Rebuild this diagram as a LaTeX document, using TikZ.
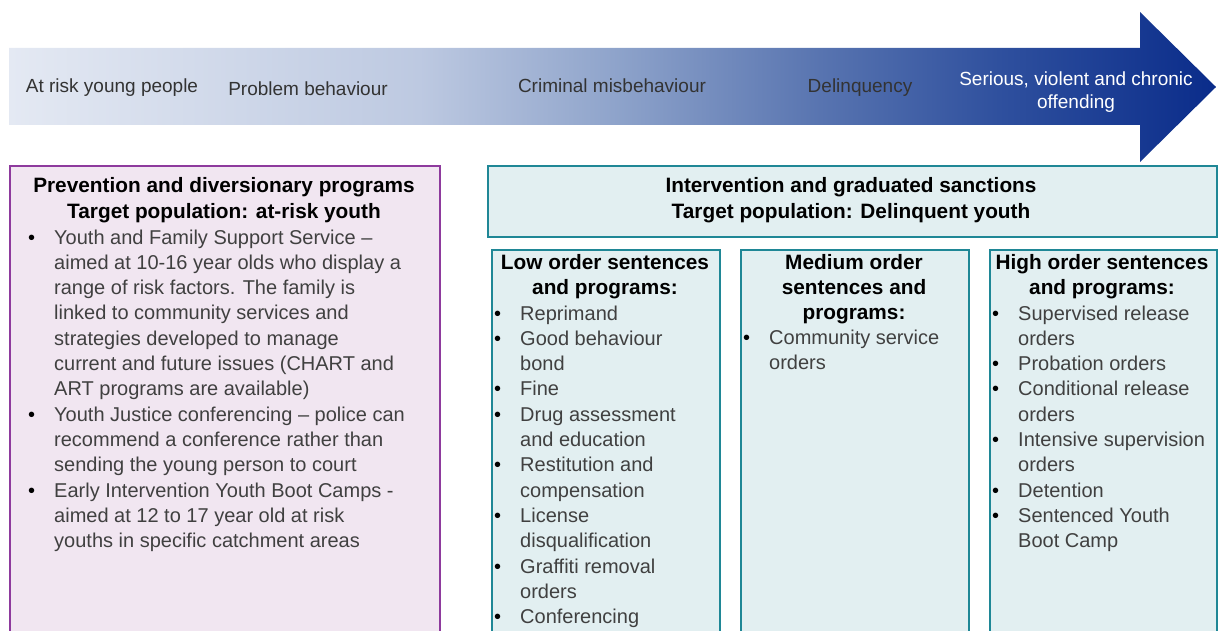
\documentclass[tikz,border=0pt]{standalone}
\usepackage{fontspec}
\setmainfont{Liberation Sans}
\definecolor{arrA}{HTML}{E4E9F3}
\definecolor{arrB}{HTML}{BDC9E1}
\definecolor{arrC}{HTML}{8FA4CB}
\definecolor{arrD}{HTML}{5874B0}
\definecolor{arrE}{HTML}{2F509E}
\definecolor{arrF}{HTML}{0A2C8A}
\definecolor{bodygray}{HTML}{404040}
\definecolor{plumline}{HTML}{8E3A9D}
\definecolor{plumfill}{HTML}{F1E6F1}
\definecolor{tealline}{HTML}{1F8796}
\definecolor{tealfill}{HTML}{E2EFF1}
\pgfdeclarehorizontalshading{timeline}{100bp}{color(0bp)=(arrA); color(25bp)=(arrA);
  color(42bp)=(arrB); color(50bp)=(arrC); color(58.6bp)=(arrD); color(66bp)=(arrE);
  color(75bp)=(arrF); color(100bp)=(arrF)}
\newlength\bulind
\setlength\bulind{26pt}
\newcommand\bitem[1]{\par\hangindent=\bulind\hangafter=1\noindent
  \makebox[\bulind][l]{\textcolor{black}{\textbullet}}#1}
\begin{document}
\begin{tikzpicture}[x=1pt,y=-1pt,
    stage/.style={anchor=base,inner sep=0pt,font=\fontsize{19}{23}\selectfont,text=black!80},
    plumbox/.style={draw=plumline,fill=plumfill,line width=2.2pt,anchor=north west,inner sep=0pt},
    tealbox/.style={draw=tealline,fill=tealfill,line width=1.6pt,anchor=north west,inner sep=0pt},
    head/.style={anchor=base,inner sep=0pt,font=\fontsize{20.8}{25.3}\selectfont\bfseries},
    items/.style={anchor=base west,inner sep=0pt,font=\fontsize{20}{25.3}\selectfont,text=bodygray}]
  \useasboundingbox (0,0) rectangle (1223,631);
  \clip (0,0) rectangle (1223,631);

  % timeline arrow
  \shade[shading=timeline] (9,48) -- (1140,48) -- (1140,12) -- (1216,87)
     -- (1140,162) -- (1140,125) -- (9,125) -- cycle;
  \foreach \i/\px/\py/\txt in {1/112/93/At risk young people, 2/308/96/Problem behaviour,
      3/612/93/Criminal misbehaviour, 4/860/93/Delinquency}
    \node[stage] (stage\i) at (\px,\py) {\txt};
  \node[stage,text=white] (stage5) at (1076,86)
    {\parbox[t]{260pt}{\centering Serious, violent and chronic\\offending}};

  % boxes
  \node[plumbox,minimum width=430pt,minimum height=540pt] (prev) at (9,165) {};
  \node[tealbox,minimum width=729pt,minimum height=71pt] (interv) at (487,165) {};
  \node[tealbox,minimum width=228pt,minimum height=450pt] (low) at (491,249) {};
  \node[tealbox,minimum width=228pt,minimum height=450pt] (medium) at (740,249) {};
  \node[tealbox,minimum width=227pt,minimum height=450pt] (high) at (989,249) {};

  % headings
  \node[head] (prevhead) at (224,193) {\parbox[t]{430pt}{\centering
    Prevention and diversionary programs\\Target population: at-risk youth}};
  \node[head] (intervhead) at (851,193) {\parbox[t]{700pt}{\centering
    Intervention and graduated sanctions\\Target population: Delinquent youth}};
  \node[head] (lowhead) at (605,269) {\parbox[t]{228pt}{\centering
    Low order sentences\\and programs:}};
  \node[head] (mediumhead) at (854,269) {\parbox[t]{228pt}{\centering
    Medium order\\sentences and\\programs:}};
  \node[head] (highhead) at (1102,269) {\parbox[t]{228pt}{\centering
    High order sentences\\and programs:}};

  % lists
  \node[items] (prevlist) at (28,244) {\parbox[t]{440pt}{\raggedright
    \bitem{Youth and Family Support Service --\newline aimed at 10-16 year olds who display a\newline
      range of risk factors. The family is\newline linked to community services and\newline
      strategies developed to manage\newline current and future issues (CHART and\newline
      ART programs are available)}
    \bitem{Youth Justice conferencing -- police can\newline recommend a conference rather than\newline
      sending the young person to court}
    \bitem{Early Intervention Youth Boot Camps -\newline aimed at 12 to 17 year old at risk\newline
      youths in specific catchment areas}}};
  \node[items] (lowlist) at (494,320) {\parbox[t]{260pt}{\raggedright
    \bitem{Reprimand}
    \bitem{Good behaviour\newline bond}
    \bitem{Fine}
    \bitem{Drug assessment\newline and education}
    \bitem{Restitution and\newline compensation}
    \bitem{License\newline disqualification}
    \bitem{Graffiti removal\newline orders}
    \bitem{Conferencing}}};
  \node[items] (mediumlist) at (743,344) {\parbox[t]{260pt}{\raggedright
    \bitem{Community service\newline orders}}};
  \node[items] (highlist) at (992,320) {\parbox[t]{260pt}{\raggedright
    \bitem{Supervised release\newline orders}
    \bitem{Probation orders}
    \bitem{Conditional release\newline orders}
    \bitem{Intensive supervision\newline orders}
    \bitem{Detention}
    \bitem{Sentenced Youth\newline Boot Camp}}};
\end{tikzpicture}
\end{document}
